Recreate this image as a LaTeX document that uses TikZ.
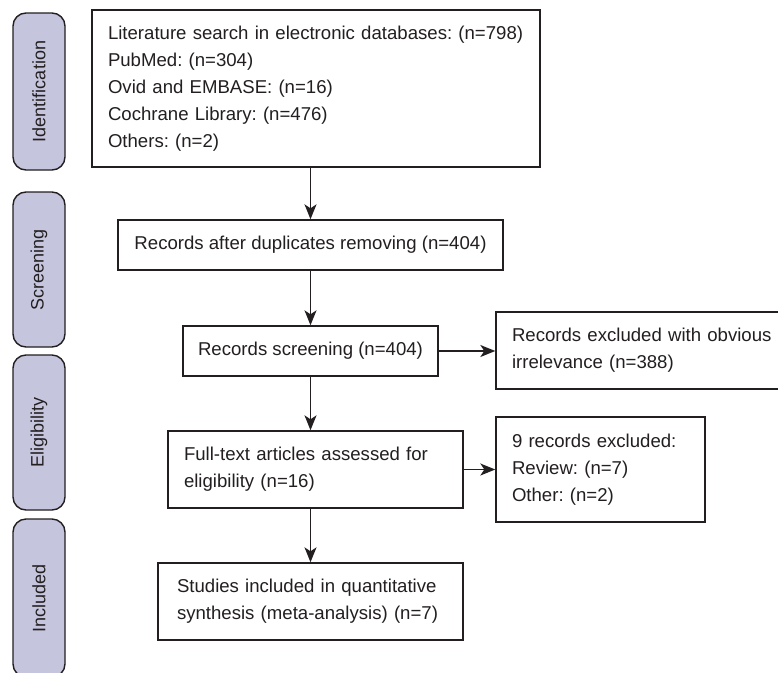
\documentclass[tikz,border=0pt]{standalone}
\usepackage{fontspec}
\setmainfont{Liberation Sans}
\frenchspacing
\usetikzlibrary{arrows.meta}
\definecolor{ln}{RGB}{35,31,32}
\definecolor{sidefill}{RGB}{197,197,222}
\begin{document}
\begin{tikzpicture}[x=1pt,y=-1pt,
  every node/.style={font=\fontsize{18.6}{27}\selectfont, text=ln},
  box/.style={draw=ln, line width=1.4pt, fill=white, inner sep=0pt},
  lbox/.style={box, align=left, inner xsep=16pt},
  sidebar/.style={draw=ln, line width=1.4pt, fill=sidefill, rounded corners=13pt,
    minimum width=52pt, inner sep=0pt, font=\fontsize{18}{22}\selectfont},
  arr/.style={draw=ln, line width=1.4pt, -{Stealth[length=15pt,width=12pt,inset=4pt]}}]
\clip (0,0) rectangle (778,672);
% side bars
\node[sidebar, minimum height=157pt] (sid) at (39,91.5) {\rotatebox{90}{Identification}};
\node[sidebar, minimum height=155pt] (ssc) at (39,269.5) {\rotatebox{90}{Screening}};
\node[sidebar, minimum height=155pt] (sel) at (39,432.5) {\rotatebox{90}{Eligibility}};
\node[sidebar, minimum height=158pt] (sin) at (39,598) {\rotatebox{90}{Included}};
% boxes
\node[lbox, minimum width=448pt, minimum height=157pt, text width=416pt] (b1) at (316,88.5)
  {Literature search in electronic databases: (n=798)\\PubMed: (n=304)\\Ovid and EMBASE: (n=16)\\Cochrane Library: (n=476)\\Others: (n=2)};
\node[box, minimum width=385pt, minimum height=50pt] (b2) at (310.5,245)
  {Records after duplicates removing (n=404)};
\node[box, minimum width=255pt, minimum height=50pt] (b3) at (310.5,351)
  {Records screening (n=404)};
\node[lbox, minimum width=304pt, minimum height=77pt, text width=272pt] (ex1) at (648,350.5)
  {Records excluded with obvious\\irrelevance (n=388)};
\node[lbox, minimum width=295pt, minimum height=77pt, text width=263pt] (b4) at (315.5,469.5)
  {Full-text articles assessed for\\eligibility (n=16)};
\node[lbox, minimum width=209pt, minimum height=105pt, text width=177pt] (ex2) at (600.5,469.5)
  {9 records excluded:\\Review: (n=7)\\Other: (n=2)};
\node[lbox, minimum width=305pt, minimum height=77pt, text width=267pt, inner xsep=19pt] (b5) at (310.5,601.5)
  {Studies included in quantitative\\synthesis (meta-analysis) (n=7)};
% connectors
\draw[arr] (b1.south -| b2.north) -- (b2.north);
\draw[arr] (b2.south) -- (b3.north);
\draw[arr] (b3.south) -- (b3.south |- b4.north);
\draw[arr] (b4.south -| b3.south) -- (b3.south |- b5.north);
\draw[arr] (b3.east) -- (b3.east -| ex1.west);
\draw[arr] (b4.east) -- (ex2.west);
\end{tikzpicture}
\end{document}
